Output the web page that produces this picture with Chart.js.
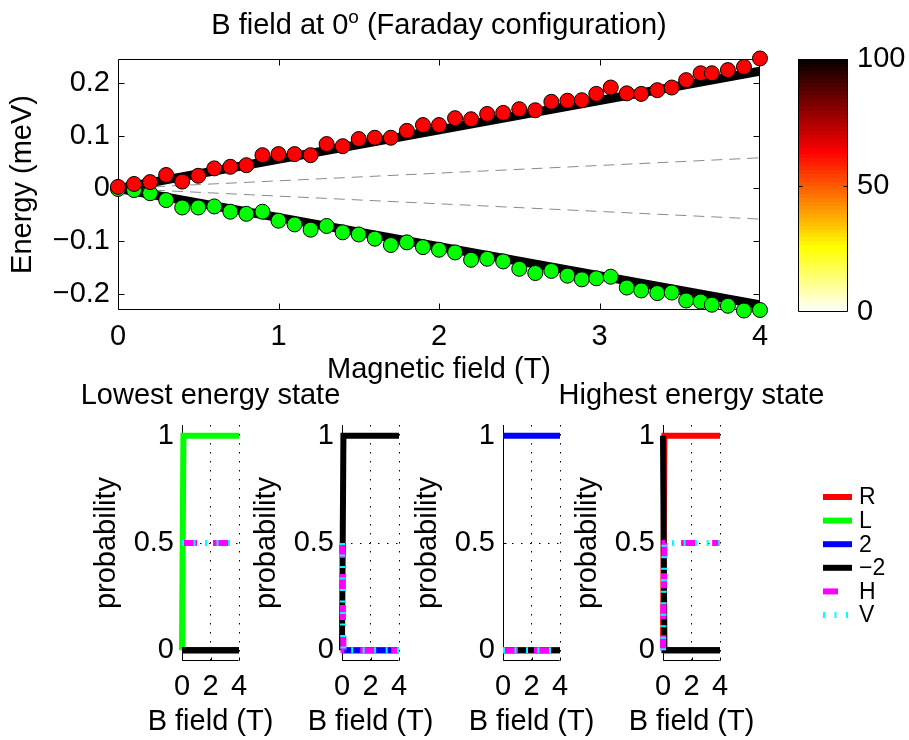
<!DOCTYPE html>
<html><head><meta charset="utf-8">
<script src="https://cdn.jsdelivr.net/npm/chart.js@4.4.0/dist/chart.umd.min.js"></script>
<style>
html,body{margin:0;padding:0;background:#fff;width:909px;height:740px;overflow:hidden;}
.box{position:absolute;}
canvas{display:block;}
</style></head><body>
<div class="box" style="left:0px;top:0px"><canvas id="cTop" width="909" height="388"></canvas></div>
<div class="box" style="left:780px;top:0px"><canvas id="cBar" width="129" height="345"></canvas></div>
<div class="box" style="left:62px;top:375px"><canvas id="p1" width="297" height="365"></canvas></div>
<div class="box" style="left:222px;top:375px"><canvas id="p2" width="240" height="365"></canvas></div>
<div class="box" style="left:383px;top:375px"><canvas id="p3" width="240" height="365"></canvas></div>
<div class="box" style="left:543px;top:375px"><canvas id="p4" width="366" height="365"></canvas></div>
<script>
// ---------- data ----------
const fieldB = [0,0.1,0.2,0.3,0.4,0.5,0.6,0.7,0.8,0.9,1.0,1.1,1.2,1.3,1.4,1.5,1.6,1.7,1.8,1.9,
  2.0,2.1,2.2,2.3,2.4,2.5,2.6,2.7,2.8,2.89,2.98,3.07,3.17,3.26,3.36,3.45,3.54,3.63,3.7,3.8,3.9,4.0];
const energyUpper = [0.003,0.0085,0.012,0.0255,0.013,0.024,0.038,0.041,0.044,0.063,0.065,0.065,0.063,0.084,0.080,0.0935,0.096,0.096,0.109,0.120,
  0.120,0.133,0.131,0.141,0.143,0.150,0.148,0.164,0.166,0.167,0.179,0.191,0.180,0.179,0.186,0.191,0.205,0.218,0.218,0.224,0.230,0.246];
const energyLower = [-0.001,-0.003,-0.009,-0.022,-0.036,-0.036,-0.034,-0.044,-0.048,-0.044,-0.061,-0.068,-0.078,-0.071,-0.083,-0.087,-0.095,-0.107,-0.102,-0.111,
  -0.116,-0.121,-0.135,-0.133,-0.138,-0.152,-0.160,-0.156,-0.165,-0.172,-0.170,-0.167,-0.1875,-0.193,-0.198,-0.197,-0.212,-0.214,-0.220,-0.222,-0.231,-0.230];
const theoryB = [0, 4];
const theoryUpper = [0, 0.222];
const theoryLower = [0, -0.220];
const weakUpper = [0, 0.058];
const weakLower = [0, -0.058];

const energyTicks = [-0.2, -0.1, 0, 0.1, 0.2];
const energyTickLabels = ['\u22120.2', '\u22120.1', '0', '0.1', '0.2'];
const fieldTicks = [0, 1, 2, 3, 4];
const fieldTickLabels = ['0', '1', '2', '3', '4'];
const colorbarTicks = [0, 50, 100];
const colorbarTickLabels = ['0', '50', '100'];

const probField = [0, 0.1, 4];
const probTicks = [0, 0.5, 1];
const probTickLabels = ['0', '0.5', '1'];
const bTicks = [0, 2, 4];
const bTickLabels = ['0', '2', '4'];
const seriesNames = ['R', 'L', '2', '\u22122', 'H', 'V'];

// lowest energy state
const lowR = [0, 0, 0], lowL = [0, 1, 1], low2 = [0, 0, 0], lowM2 = [0, 0, 0], lowH = [0.5, 0.5, 0.5], lowV = [0.5, 0.5, 0.5];
// second state
const secR = [0, 0, 0], secL = [0, 0, 0], sec2 = [0, 0, 0], secM2 = [0, 1, 1], secH = [0.5, 0, 0], secV = [0.5, 0, 0];
// third state
const thiR = [0, 0, 0], thiL = [0, 0, 0], thi2 = [1, 1, 1], thiM2 = [0, 0, 0], thiH = [0, 0, 0], thiV = [0, 0, 0];
// highest energy state
const highR = [0, 1, 1], highL = [0, 0, 0], high2 = [0, 0, 0], highM2 = [1, 0, 0], highH = [0, 0.5, 0.5], highV = [0, 0.5, 0.5];

// ---------- styles ----------
const FONT = "'Liberation Sans', Arial, Helvetica, sans-serif";
Chart.defaults.font.family = FONT;
Chart.defaults.color = '#000';
const seriesColors = ['#ff0000', '#00ff00', '#0000ff', '#000000', '#ff00ff', '#00ffff'];
const seriesDash = [[], [], [], [], [15, 16], [2, 9.5]];
const seriesOrder = [5, 4, 3, 2, 1, 0];

const pts = (xs, ys) => xs.map((x, i) => ({x: x, y: ys[i]}));
const setTicks = vals => s => { s.ticks = vals.map(v => ({value: v})); };

// frame + inward tick marks
const frameTicks = {
  id: 'frameTicks',
  beforeDatasetsDraw(chart, args, o) {
    const {ctx, chartArea: a, scales} = chart;
    const L = Math.round(a.left) + 0.5, R = Math.round(a.right) - 0.5, T = Math.round(a.top) + 0.5, B = Math.round(a.bottom) - 0.5;
    ctx.save();
    ctx.strokeStyle = '#000'; ctx.lineWidth = 1; ctx.setLineDash([]);
    ctx.beginPath();
    if (o.box) { ctx.rect(L, T, R - L, B - T); }
    else { ctx.moveTo(L, T); ctx.lineTo(L, B); ctx.lineTo(R, B); }
    const len = o.len || 6;
    if (o.x && scales.x && scales.x.options.display !== false) {
      o.x.forEach(v => {
        const p = Math.round(scales.x.getPixelForValue(v)) + 0.5;
        if (o.sides.includes('b')) { ctx.moveTo(p, B); ctx.lineTo(p, B - len); }
        if (o.sides.includes('t')) { ctx.moveTo(p, T); ctx.lineTo(p, T + len); }
      });
    }
    if (o.y) {
      o.y.forEach(v => {
        const p = Math.round(scales.y.getPixelForValue(v)) + 0.5;
        if (o.sides.includes('l')) { ctx.moveTo(L, p); ctx.lineTo(L + len, p); }
        if (o.sides.includes('r')) { ctx.moveTo(R, p); ctx.lineTo(R - len, p); }
      });
    }
    ctx.stroke();
    ctx.restore();
  }
};

// texts drawn centred over the plot area (supports a superscript part)
const areaTitle = {
  id: 'areaTitle',
  afterDraw(chart, args, o) {
    if (!o.items) return;
    const {ctx, chartArea: a} = chart;
    ctx.save();
    ctx.fillStyle = '#000';
    ctx.textBaseline = 'alphabetic';
    ctx.textAlign = 'left';
    o.items.forEach(item => {
      let total = 0;
      const widths = item.parts.map(p => { ctx.font = p.size + 'px ' + FONT; const w = ctx.measureText(p.text).width; total += w; return w; });
      let x = (a.left + a.right) / 2 - total / 2;
      item.parts.forEach((p, i) => {
        ctx.font = p.size + 'px ' + FONT;
        ctx.fillText(p.text, x, item.y - (p.rise || 0));
        x += widths[i];
      });
    });
    ctx.restore();
  }
};

// legend drawn as line samples
const lineLegend = {
  id: 'lineLegend',
  afterDraw(chart, args, o) {
    if (!o.show) return;
    const {ctx} = chart;
    ctx.save();
    chart.data.datasets.forEach((d, i) => {
      const y = o.y0 + i * o.dy;
      ctx.strokeStyle = d.borderColor;
      ctx.lineWidth = d.borderWidth;
      ctx.lineCap = 'butt';
      ctx.setLineDash(d.borderDash || []);
      ctx.beginPath(); ctx.moveTo(o.x0, y); ctx.lineTo(o.x0 + o.w, y); ctx.stroke();
      ctx.setLineDash([]);
      ctx.fillStyle = '#000';
      ctx.font = o.size + 'px ' + FONT;
      ctx.textBaseline = 'middle'; ctx.textAlign = 'left';
      ctx.fillText(d.label, o.x0 + o.w + 7, y + 1);
    });
    ctx.restore();
  }
};

// ---------- top chart ----------
new Chart(document.getElementById('cTop'), {
  type: 'scatter',
  data: {
    datasets: [
      {label: 'upper', data: pts(fieldB, energyUpper), pointRadius: 7.5, pointBackgroundColor: '#ff0000', pointBorderColor: '#000', pointBorderWidth: 1, showLine: false, order: 0, clip: false},
      {label: 'lower', data: pts(fieldB, energyLower), pointRadius: 7.5, pointBackgroundColor: '#00ff00', pointBorderColor: '#000', pointBorderWidth: 1, showLine: false, order: 1, clip: false},
      {label: 'theory upper', data: pts(theoryB, theoryUpper), showLine: true, borderColor: '#000', borderWidth: 9, pointRadius: 0, order: 2},
      {label: 'theory lower', data: pts(theoryB, theoryLower), showLine: true, borderColor: '#000', borderWidth: 9, pointRadius: 0, order: 2},
      {label: 'weak upper', data: pts(theoryB, weakUpper), showLine: true, borderColor: '#8a8a8a', borderWidth: 1, borderDash: [11, 7], pointRadius: 0, order: 3},
      {label: 'weak lower', data: pts(theoryB, weakLower), showLine: true, borderColor: '#8a8a8a', borderWidth: 1, borderDash: [11, 7], pointRadius: 0, order: 3}
    ]
  },
  options: {
    responsive: false, animation: false, devicePixelRatio: 1,
    layout: {padding: {left: 0, top: 59, right: 149, bottom: 0}},
    plugins: {
      legend: {display: false}, tooltip: {enabled: false},
      frameTicks: {box: true, sides: 'btlr', x: fieldTicks, y: energyTicks, len: 6},
      areaTitle: {items: [{y: 33.5, parts: [{text: 'B field at 0', size: 29}, {text: 'o', size: 19, rise: 11}, {text: ' (Faraday configuration)', size: 29}]}]},
      lineLegend: {show: false}
    },
    scales: {
      x: {
        type: 'linear', min: 0, max: 4,
        afterFit: s => { s.height = 78; },
        afterBuildTicks: setTicks(fieldTicks),
        grid: {display: false, drawTicks: false}, border: {display: false},
        ticks: {padding: 10, autoSkip: false, maxRotation: 0, font: {size: 29}, callback: (v, i) => fieldTickLabels[i]},
        title: {display: true, text: 'Magnetic field (T)', font: {size: 29}, padding: {top: 0, bottom: 1}}
      },
      y: {
        type: 'linear', min: -0.23, max: 0.245,
        afterFit: s => { s.width = 118; },
        afterBuildTicks: setTicks(energyTicks),
        grid: {display: false, drawTicks: false}, border: {display: false},
        ticks: {padding: 8, autoSkip: false, font: {size: 29}, callback: (v, i) => energyTickLabels[i]},
        title: {display: true, text: 'Energy (meV)', font: {size: 29}, padding: {top: 6, bottom: 0}}
      }
    }
  },
  plugins: [frameTicks, areaTitle, lineLegend]
});

// ---------- colorbar ----------
const hotBands = {
  id: 'hotBands',
  beforeDatasetsDraw(chart) {
    const {ctx, chartArea: a} = chart;
    const m = 64, n = Math.floor(3 / 8 * m);
    const hot = [];
    for (let i = 1; i <= m; i++) {
      const r = i <= n ? i / n : 1;
      const g = i <= n ? 0 : (i <= 2 * n ? (i - n) / n : 1);
      const b = i <= 2 * n ? 0 : (i - 2 * n) / (m - 2 * n);
      hot.push([r, g, b]);
    }
    const h = (a.bottom - a.top) / m;
    ctx.save();
    for (let k = 0; k < m; k++) {
      const c = hot[m - 1 - k];
      ctx.fillStyle = 'rgb(' + Math.round(c[0] * 255) + ',' + Math.round(c[1] * 255) + ',' + Math.round(c[2] * 255) + ')';
      const y1 = a.bottom - (k + 1) * h;
      ctx.fillRect(a.left, Math.floor(y1), a.right - a.left, Math.ceil(h) + 1);
    }
    ctx.restore();
  }
};
new Chart(document.getElementById('cBar'), {
  type: 'scatter',
  data: {datasets: []},
  options: {
    responsive: false, animation: false, devicePixelRatio: 1,
    layout: {padding: {left: 18, top: 59, right: 0, bottom: 33}},
    plugins: {legend: {display: false}, tooltip: {enabled: false},
      frameTicks: {box: true, sides: 'lr', y: [50], len: 4}},
    scales: {
      x: {type: 'linear', display: false, min: 0, max: 1},
      y: {
        type: 'linear', position: 'right', min: 0, max: 100,
        afterFit: s => { s.width = 61; },
        afterBuildTicks: setTicks(colorbarTicks),
        grid: {display: false, drawTicks: false}, border: {display: false},
        ticks: {padding: 9, autoSkip: false, font: {size: 29}, callback: (v, i) => colorbarTickLabels[i]}
      }
    }
  },
  plugins: [hotBands, frameTicks]
});

// ---------- probability panels ----------
function makePanel(id, series, title, legend) {
  const datasets = series.map((ys, i) => ({
    label: seriesNames[i], data: pts(probField, ys), showLine: true,
    borderColor: seriesColors[i], borderWidth: 6, borderDash: seriesDash[i],
    pointRadius: 0, order: seriesOrder[i], clip: false, borderCapStyle: 'butt'
  }));
  const canvas = document.getElementById(id);
  const texts = [{y: 355, parts: [{text: 'B field (T)', size: 29}]}];
  if (title) texts.push({y: 29, parts: [{text: title, size: 29}]});
  new Chart(canvas, {
    type: 'scatter',
    data: {datasets},
    options: {
      responsive: false, animation: false, devicePixelRatio: 1,
      layout: {padding: {left: 0, top: 50, right: canvas.width - 120 - 57, bottom: 0}},
      plugins: {
        legend: {display: false}, tooltip: {enabled: false},
        frameTicks: {box: false, sides: 'bl', x: bTicks, y: probTicks, len: 3},
        areaTitle: {items: texts},
        lineLegend: legend ? {show: true, x0: 280, w: 29, y0: 122, dy: 23.6, size: 23} : {show: false}
      },
      scales: {
        x: {
          type: 'linear', min: 0, max: 4,
          afterFit: s => { s.height = 79; },
          afterBuildTicks: setTicks(bTicks),
          grid: {display: true, drawTicks: false, color: '#000', lineWidth: 1},
          border: {display: false, dash: [1.5, 7.5]},
          ticks: {padding: 9, autoSkip: false, maxRotation: 0, font: {size: 29}, callback: (v, i) => bTickLabels[i]}
        },
        y: {
          type: 'linear', min: -0.05, max: 1.05,
          afterFit: s => { s.width = 120; },
          afterBuildTicks: setTicks(probTicks),
          grid: {display: true, drawTicks: false, color: '#000', lineWidth: 1},
          border: {display: false, dash: [1.5, 7.5]},
          ticks: {padding: 8, autoSkip: false, font: {size: 29}, callback: (v, i) => probTickLabels[i]},
          title: {display: true, text: 'probability', font: {size: 29}, padding: {top: 28, bottom: 0}}
        }
      }
    },
    plugins: [frameTicks, areaTitle, lineLegend]
  });
}
makePanel('p1', [lowR, lowL, low2, lowM2, lowH, lowV], 'Lowest energy state', false);
makePanel('p2', [secR, secL, sec2, secM2, secH, secV], null, false);
makePanel('p3', [thiR, thiL, thi2, thiM2, thiH, thiV], null, false);
makePanel('p4', [highR, highL, high2, highM2, highH, highV], 'Highest energy state', true);
</script>
</body></html>
